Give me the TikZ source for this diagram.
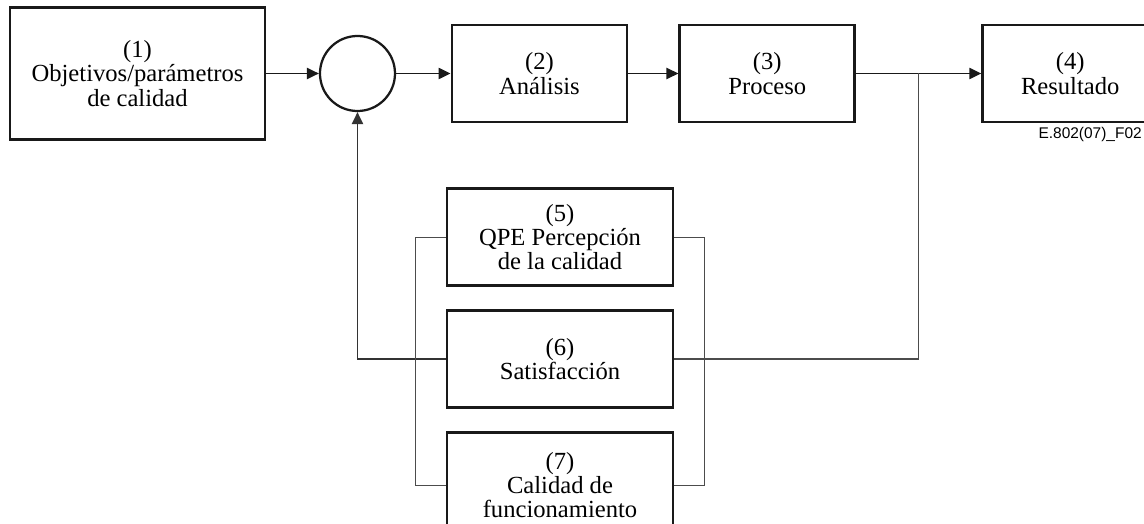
\documentclass[tikz,border=0pt]{standalone}
\usepackage{fontspec}
\setmainfont{Liberation Serif}
\setsansfont{Liberation Sans}
\usetikzlibrary{arrows.meta, positioning, calc}
\tikzset{
	blk/.style ={rectangle, draw=black!90, line width=2pt, minimum width=4.375cm, minimum height=2.425cm, align=center, inner sep=0pt, font=\fontsize{17.5}{17.2}\selectfont},
	wblk/.style={blk, minimum width=5.65cm},
	sumj/.style={circle, draw=black!90, line width=1.6pt, minimum size=1.875cm, inner sep=0pt},
	sig/.style ={-{Triangle[length=8.5pt, width=8pt]}, line width=1pt, black!90},
	fbk/.style ={draw=black!70, line width=0.85pt},
}
\begin{document}
\begin{tikzpicture}[x=0.025cm, y=-0.025cm]
	\useasboundingbox (0,0) rectangle (1144,524);
	% forward path
	\node[blk, minimum width=6.375cm, minimum height=3.3cm] (obj) at (137.5,73.5) {(1)\\ Objetivos/parámetros\\ de calidad};
	\node[sumj, right=1.31cm of obj] (sum) {};
	\node[blk, right=1.36cm of sum] (ana) {(2)\\ Análisis};
	\node[blk, right=1.25cm of ana] (pro) {(3)\\ Proceso};
	\node[blk, right=3.125cm of pro] (res) {(4)\\ Resultado};
	\node[anchor=base east, inner sep=0pt, font=\sffamily\fontsize{11}{13}\selectfont] (fig) at (1142,139) {E.802(07)\_F02};
	% evaluation blocks
	\node[wblk] (sat) at (560,359) {(6)\\ Satisfacción};
	\node[wblk, above=0.55cm of sat] (qpe) {(5)\\ QPE Percepción\\ de la calidad};
	\node[wblk, below=0.55cm of sat, minimum height=2.65cm] (fun) {(7)\\ Calidad de\\ funcionamiento};
	\coordinate (jn) at ($(pro.east)!0.5!(res.west)$);
	\draw[sig] (obj) -- (sum);
	\draw[sig] (sum) -- (ana);
	\draw[sig] (ana) -- (pro);
	\draw[sig] (pro) -- (res);
	\draw[fbk] (jn) |- (sat.east);
	\draw[sig, black!80, line width=0.9pt] (sat.west) -| (sum.south);
	\draw[fbk] (qpe.west) -- ++(-30,0) |- (fun.west);
	\draw[fbk] (qpe.east) -- ++(30,0) |- (fun.east);
\end{tikzpicture}
\end{document}
